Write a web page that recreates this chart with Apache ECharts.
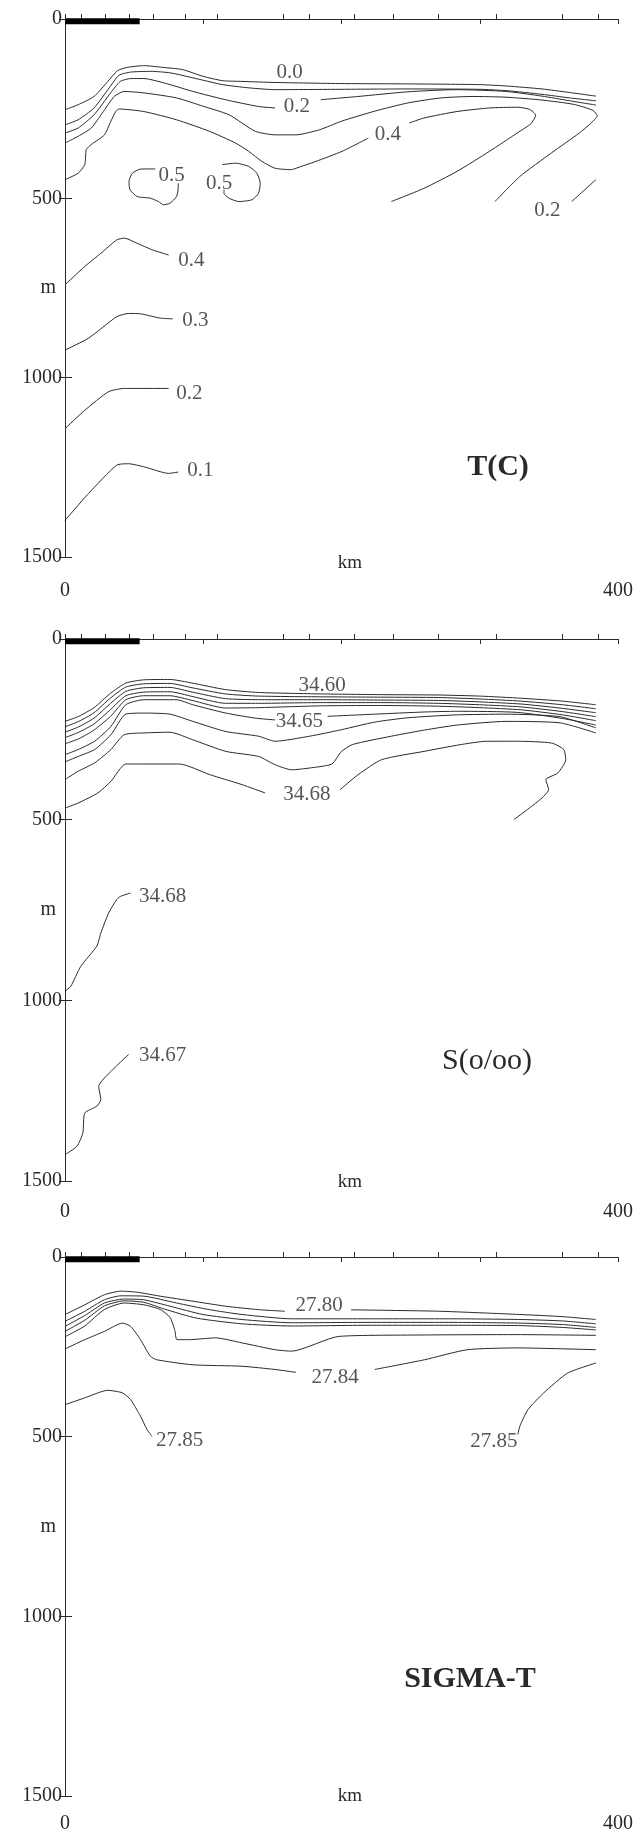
<!DOCTYPE html>
<html>
<head>
<meta charset="utf-8">
<script src="https://cdn.jsdelivr.net/npm/echarts@6.0.0/dist/echarts.min.js"></script>
<style>
  html, body { margin: 0; padding: 0; background: #fff; }
  #chart { width: 636px; height: 1834px; }
</style>
</head>
<body>
<div id="chart"></div>
<script>
// station positions along the top axis (km)
var stationKm = [0, 11.5, 29.4, 46.7, 63.5, 87.1, 110.2, 157.6, 176.6, 208.9, 237.3, 269.9, 311.8, 359.4, 385.9];
var barKm = [0, 54];
var depthTicks = [0, 500, 1000, 1500];

// ---- T(C) contours: [km, m]
var t00 = [[0,253],[9.5,239],[21,216],[31,174],[38,144],[45,135],[57,130],[71,135],[85,141],[100,160],[114,172],[128,174],[152,177],[200,180],[250,181],[300,183],[320,187],[345,195],[365,205],[384,215]];
var t01 = [[0,295],[9.5,281],[21,248],[32,192],[39,157],[47.5,148],[62,146],[76,150],[92.5,164],[114,183],[133,192],[152,197],[200,196],[250,195],[300,196],[320,200],[345,210],[365,220],[384,228]];
var t02a = [[0,318],[9.5,304],[21,267],[33,206],[40,174],[47.5,166],[57,166],[76,183],[92.5,202],[116,225],[140,244],[152,248]];
var t02b = [[185,225],[212,216],[248,203],[283,197],[319,202],[345,215],[365,228],[384,240]];
var t03 = [[0,346],[9.5,327],[19,304],[27,262],[35.6,216],[42.7,202],[57,206],[80.7,220],[99.7,243],[118.6,267],[137.6,313],[151.8,323],[167,323],[184,309],[200,285],[224,257],[248,234],[272,220],[295,216],[319,218],[345,226],[368,238],[382,255],[385,270],[380,292],[372,318],[352,373],[329,439],[311,509]];
var t04a = [[0,448],[9.5,430],[14.3,406],[15.4,364],[19,350],[28.5,323],[33.2,285],[36.8,257],[39.2,251],[57,258],[80.7,281],[104.4,313],[123.4,346],[132.9,369],[142.4,397],[151.8,416],[163.7,420],[167.2,416],[181.5,397],[200.4,369],[219.4,332]];
var t04b = [[249,290],[259.7,276],[283.5,258],[307,248],[327.3,246],[336,252],[340.5,268],[337,292],[327,318],[307,369],[283.5,425],[259.7,472],[236,509]];
var t05a = [[65.3,418],[54.6,418.5],[48.7,430],[46.3,453],[47,476],[52.2,495],[61.7,499.5],[67.6,509],[71.2,518],[76,513.5],[80.7,495],[81.9,472],[81.9,458]];
var t05b = [[113.9,406],[123.4,402],[132.9,411],[138.8,430],[141.2,458],[140,486],[135.2,504],[125.7,509],[118.6,499.5],[115,486],[115,476]];
var t02r = [[366.5,509],[384,448]];
var t04deep = [[0,741],[14.3,690],[26,653],[37.4,616],[43,611],[52,625],[63.4,644],[75,658]];
var t03deep = [[0,923],[17,890],[37.4,830],[46,821],[54.7,822],[69,834],[78,836]];
var t02deep = [[0,1142],[14.3,1091],[31.6,1039],[43,1030],[75,1030]];
var t01deep = [[0,1398],[17,1323],[37.4,1244],[46,1240],[57.6,1249],[75,1267],[82,1263]];
var tLabels = [[162.5,150,'0.0'],[167.7,245,'0.2'],[233.5,323,'0.4'],[349,534,'0.2'],[77.1,436,'0.5'],[111.5,459.5,'0.5'],[91.4,672,'0.4'],[94.3,841,'0.3'],[90,1044,'0.2'],[98,1260,'0.1']];

// ---- S(o/oo) contours
var s60 = [[0,228],[10,214],[21,190],[33,150],[44,122],[57,113],[76,112],[92,122],[116,140],[140,148],[185,152],[230,154],[270,155],[300,158],[330,164],[360,172],[384,182]];
var s61 = [[0,243],[10,228],[21,204],[33,163],[44,133],[57,124],[76,123],[92,135],[116,152],[140,158],[185,160],[230,161],[270,162],[300,166],[330,172],[360,182],[384,193]];
var s62 = [[0,258],[10,243],[21,219],[33,178],[44,145],[57,135],[76,134],[92,147],[116,165],[140,168],[185,168],[230,169],[270,170],[300,174],[330,180],[360,192],[384,204]];
var s63 = [[0,273],[10,258],[21,235],[33,195],[44,157],[57,147],[76,146],[92,159],[116,178],[140,178],[185,176],[230,176],[270,178],[300,182],[330,188],[360,201],[384,215]];
var s64 = [[0,290],[10,276],[21,252],[33,214],[44,168],[57,157],[76,157],[92,170],[116,191],[140,190],[185,185],[230,184],[270,186],[300,190],[330,196],[360,210],[384,226]];
var s65a = [[0,320],[9.5,306],[21.4,283],[33.2,242],[43.9,182],[57,168],[80.7,168],[92.5,182],[116.3,205],[137.6,219],[152,224]];
var s65b = [[190,214],[224,208],[260,202],[284,200],[327,203],[360,220],[384,238]];
var s66 = [[0,340],[9.5,325],[21.4,306],[33.2,265],[43.9,208],[57,205],[76,208],[92.5,228],[116.3,256],[140,269],[152,283],[177,269],[200,251],[224,230],[248,218],[283,210],[319,208],[358,215],[384,246]];
var s67 = [[0,389],[9.5,366],[21.4,343],[33.2,306],[42.7,265],[57,260],[76,258],[92.5,279],[116.3,311],[140,325],[152,348],[164,362],[177,357],[193,346],[200,311],[208,292],[236,269],[260,252],[284,238],[319,228],[358,232],[384,260]];
var s68a = [[0,468],[9.5,454],[23.8,426],[33.2,394],[43.9,346],[57,346],[83,346],[104.4,375],[128,403],[144.7,426]];
var s68b = [[199,417],[212,375.5],[229,334],[259.7,311],[285.8,292.5],[304.8,283],[327.3,283],[352,288],[360.8,306],[362.2,334],[356.4,371],[347.8,389],[349.8,417],[343.5,445],[324.7,500]];
var s68deep = [[0,975],[4.2,961],[11.4,906],[23,850],[25.9,814],[31.6,758],[37.4,721],[40.3,712],[47.5,703]];
var s67deep = [[0,1427],[8.6,1404],[12.9,1367],[14.3,1312],[23,1293],[25.9,1275],[24.4,1238],[34.5,1192],[46,1150]];
var sLabels = [[186,130,'34.60'],[169.6,229,'34.65'],[175,431,'34.68'],[70.6,712,'34.68'],[70.6,1152,'34.67']];

// ---- SIGMA-T contours
var g80a = [[0,160],[14.3,133],[28.5,105],[40.4,95],[52.2,98],[68.8,109],[92.5,123],[116.3,137],[140,146.5],[159,151]];
var g80b = [[207,147],[271,151],[329,160],[360,166],[384,174]];
var g81 = [[0,179],[14.3,151],[28.5,119],[40.4,108],[57,109],[80.7,128],[104.4,146.5],[128,160],[163.7,172],[220,172],[280,172],[330,174],[360,178],[384,186]];
var g82 = [[0,193],[14.3,163],[28.5,128],[42.7,117],[57,119],[76,137],[99.7,160],[128,174],[163.7,183],[220,182],[280,182],[330,184],[360,188],[384,196]];
var g83 = [[0,207],[14.3,176],[28.5,136],[42.7,122],[57,126],[72,145],[95,170],[128,186],[163.7,192],[220,190],[280,190],[330,191],[360,196],[384,203]];
var g83s = [[0,222],[14.3,192],[28.5,146],[42.7,128],[57,133],[68.8,146],[76,168],[79.5,205],[81,230],[90,230],[109,225],[128,239],[152,258],[164,262],[198,221],[260,217],[327,216],[384,218]];
var g84a = [[0,256],[14.3,230],[28.5,207],[41.5,184],[47.5,193],[54.6,230],[61.7,276],[66.4,286],[92.5,300],[128,304],[151.8,313],[167,321]];
var g84b = [[224,313],[260,286],[291,258],[327,253],[384,258]];
var g85a = [[0,411],[14.3,392],[30.9,371],[41.5,378],[47.5,397],[54.6,443],[59.3,480],[62.9,499]];
var g85b = [[384,295],[363.6,323],[346.3,378],[334.8,425],[329,471],[327.6,494]];
var gLabels = [[183.8,135,'27.80'],[195.3,335,'27.84'],[83,510,'27.85'],[310.2,514.5,'27.85']];

var FONT = 'Liberation Serif';
var INK = '#2a2a2a';

var panels = [
  { top: 19, height: 538, kmOffset: 14, kmY: 563, title: 'T(C)', tx: 498, ty: 467, bold: true,
    lines: [t00, t01, t02a, t02b, t03, t04a, t04b, t05a, t05b, t02r, t04deep, t03deep, t02deep, t01deep], labels: tLabels },
  { top: 639, height: 542, kmOffset: 11, kmY: 1182, title: 'S(o/oo)', tx: 487, ty: 1061, bold: false,
    lines: [s60, s61, s62, s63, s64, s65a, s65b, s66, s67, s68a, s68b, s68deep, s67deep], labels: sLabels },
  { top: 1257, height: 540, kmOffset: 8, kmY: 1796, title: 'SIGMA-T', tx: 470, ty: 1679, bold: true,
    lines: [g80a, g80b, g81, g82, g83, g83s, g84a, g84b, g85a, g85b], labels: gLabels }
];

var grids = [], xAxes = [], yAxes = [], series = [], graphics = [];

panels.forEach(function(p, g) {
  grids.push({ left: 65, width: 562, top: p.top, height: p.height });

  xAxes.push({
    gridIndex: g, type: 'value', min: 0, max: 400, interval: 100, position: 'bottom', offset: p.kmOffset,
    axisLine: { show: true, lineStyle: { color: INK, width: 1 } },
    axisTick: { show: true, length: 5, lineStyle: { color: INK } },
    axisLabel: { fontFamily: FONT, fontSize: 20, color: INK, margin: 10,
      formatter: function(v) { return (v === 0 || v === 400) ? String(v) : ''; } },
    splitLine: { show: false }
  });
  xAxes.push({
    gridIndex: g, type: 'value', min: 0, max: 400, position: 'top',
    axisLine: { show: true, lineStyle: { color: INK, width: 1 } },
    axisTick: { show: true, inside: false, length: 5, customValues: stationKm, lineStyle: { color: INK } },
    axisLabel: { show: false },
    splitLine: { show: false }
  });

  yAxes.push({
    gridIndex: g, type: 'value', inverse: true, min: 0, max: 1500, interval: 500, position: 'left',
    axisLine: { show: true, lineStyle: { color: INK, width: 1 } },
    axisTick: { show: true, inside: true, length: 7, lineStyle: { color: INK } },
    axisLabel: { fontFamily: FONT, fontSize: 20, color: INK, margin: 3,
      formatter: function(v) { return String(v); } },
    splitLine: { show: false },
    name: 'm', nameLocation: 'middle', nameRotate: 0, nameGap: 9, nameMoveOverlap: false,
    nameTextStyle: { fontFamily: FONT, fontSize: 20, color: INK, align: 'right', verticalAlign: 'middle' }
  });
  yAxes.push({
    gridIndex: g, type: 'value', inverse: true, min: 0, max: 1500, interval: 500, position: 'right',
    axisLine: { show: true, lineStyle: { color: INK, width: 1 } },
    axisTick: { show: true, inside: true, length: 6, lineStyle: { color: INK } },
    axisLabel: { show: false },
    splitLine: { show: false }
  });

  // black bar at top-left of each section
  series.push({
    type: 'line', xAxisIndex: 2 * g, yAxisIndex: 2 * g, silent: true, symbol: 'none',
    data: [[barKm[0], 6], [barKm[1], 6]],
    lineStyle: { color: '#000', width: 6, cap: 'butt' }
  });

  p.lines.forEach(function(d) {
    series.push({
      type: 'line', xAxisIndex: 2 * g, yAxisIndex: 2 * g, silent: true, symbol: 'none',
      smooth: 0.2, data: d,
      lineStyle: { color: INK, width: 1 }
    });
  });

  series.push({
    type: 'scatter', xAxisIndex: 2 * g, yAxisIndex: 2 * g, silent: true,
    symbolSize: 1, itemStyle: { color: 'rgba(0,0,0,0)' },
    data: p.labels.map(function(l) { return { value: [l[0], l[1]], name: l[2] }; }),
    label: { show: true, position: 'inside', formatter: '{b}', fontFamily: FONT, fontSize: 21, color: INK }
  });

  graphics.push({
    type: 'text', x: 350, y: p.kmY,
    style: { text: 'km', fontFamily: FONT, fontSize: 19, fill: INK, align: 'center', verticalAlign: 'middle' }
  });
  graphics.push({
    type: 'text', x: p.tx, y: p.ty,
    style: { text: p.title, fontFamily: FONT, fontSize: 30, fontWeight: p.bold ? 'bold' : 'normal',
      fill: INK, align: 'center', verticalAlign: 'middle' }
  });
});

var myChart = echarts.init(document.getElementById('chart'), null, { renderer: 'canvas' });
myChart.setOption({
  animation: false,
  backgroundColor: '#fff',
  grid: grids,
  xAxis: xAxes,
  yAxis: yAxes,
  series: series,
  graphic: graphics
});
</script>
</body>
</html>
